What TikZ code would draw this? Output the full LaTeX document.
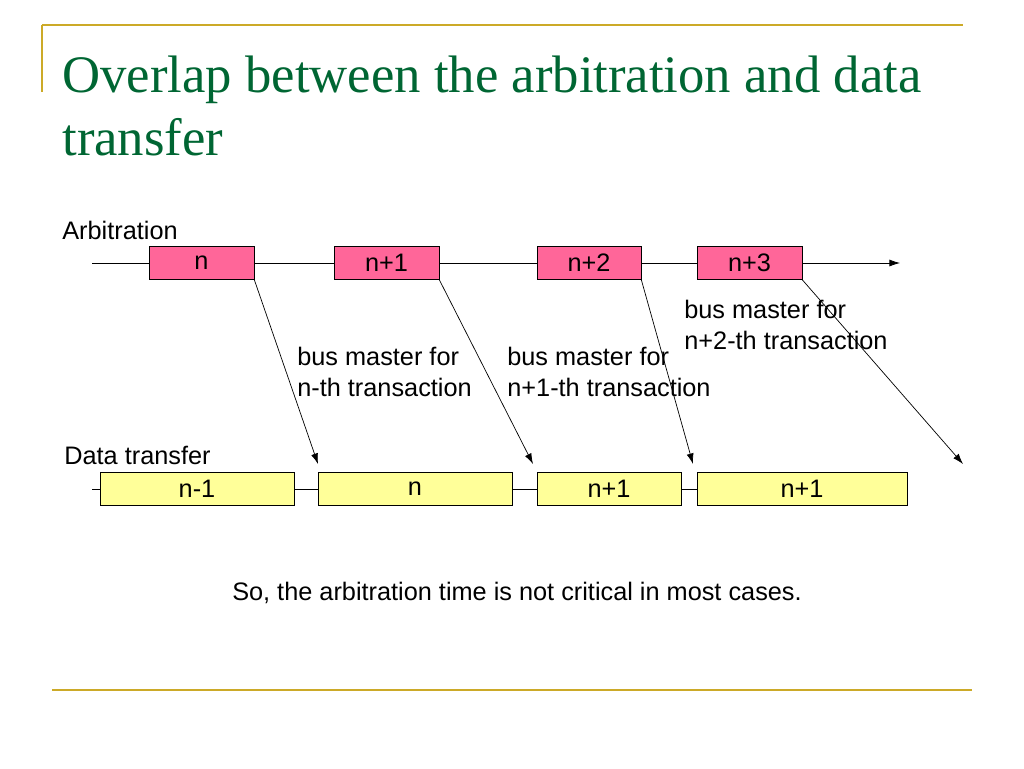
\documentclass[tikz,border=0pt]{standalone}
\usepackage{fontspec}
\usetikzlibrary{arrows.meta}
\setmainfont{Liberation Sans}
\newfontfamily\titlefont{Liberation Serif}
\definecolor{gold}{RGB}{204,170,40}
\definecolor{titlegreen}{RGB}{0,102,51}
\definecolor{arbpink}{RGB}{255,102,153}
\definecolor{datayellow}{RGB}{255,255,153}
\tikzset{
  arbbox/.style={draw,fill=arbpink,minimum height=33*0.02cm,inner sep=0pt,font=\fontsize{14.4}{18}\selectfont},
  databox/.style={draw,fill=datayellow,minimum height=33*0.02cm,inner sep=0pt,font=\fontsize{14.4}{18}\selectfont},
  label/.style={font=\fontsize{14.4}{17.2}\selectfont,align=left,inner sep=0pt,anchor=west}
}
\begin{document}
\begin{tikzpicture}[x=0.02cm,y=-0.02cm,>={Latex[length=6pt,width=4pt]}]
  \useasboundingbox (0,0) rectangle (1024,768);
  % frame lines
  \draw[gold,line width=1.2pt] (42,25) -- (963,25);
  \draw[gold,line width=1.2pt] (42,25) -- (42,92);
  \draw[gold,line width=1.2pt] (52,690) -- (972,690);
  % title
  \node[anchor=west,align=left,text=titlegreen,inner sep=0pt,
    font=\titlefont\fontsize{30}{35.5}\selectfont] (title) at (62,106)
    {Overlap between the arbitration and data\\transfer};
  % texts
  \node[label] (arb) at (62,230) {Arbitration};
  \node[label] (dat) at (64,455) {Data transfer};
  % time lines
  \draw[->] (92,263) -- (900,263);
  \draw (92,489) -- (907,489);
  % arbitration slots
  \node[arbbox,minimum width=105*0.02cm] (a1) at (201.5,263) {n};
  \node[arbbox,minimum width=105*0.02cm] (a2) at (386.5,263) {n+1};
  \node[arbbox,minimum width=104*0.02cm] (a3) at (589,263) {n+2};
  \node[arbbox,minimum width=105*0.02cm] (a4) at (749.5,263) {n+3};
  % data slots
  \node[databox,minimum width=194*0.02cm] (d1) at (197,489) {n-1};
  \node[databox,minimum width=194*0.02cm] (d2) at (415,489) {n};
  \node[databox,minimum width=144*0.02cm] (d3) at (609,489) {n+1};
  \node[databox,minimum width=210*0.02cm] (d4) at (802,489) {n+1};
  % grants
  \coordinate (e1) at (318,464);
  \coordinate (e2) at (533,464);
  \coordinate (e3) at (693,464);
  \coordinate (e4) at (963,464);
  \draw[->] (a1.south east) -- (e1);
  \draw[->] (a2.south east) -- (e2);
  \draw[->] (a3.south east) -- (e3);
  \draw[->] (a4.south east) -- (e4);
  \node[label] (m1) at (297,372) {bus master for\\n-th transaction};
  \node[label] (m2) at (507,372) {bus master for\\n+1-th transaction};
  \node[label] (m3) at (684,325) {bus master for\\n+2-th transaction};
  \node[label,anchor=center] (note) at (517,593) {So, the arbitration time is not critical in most cases.};
\end{tikzpicture}
\end{document}
